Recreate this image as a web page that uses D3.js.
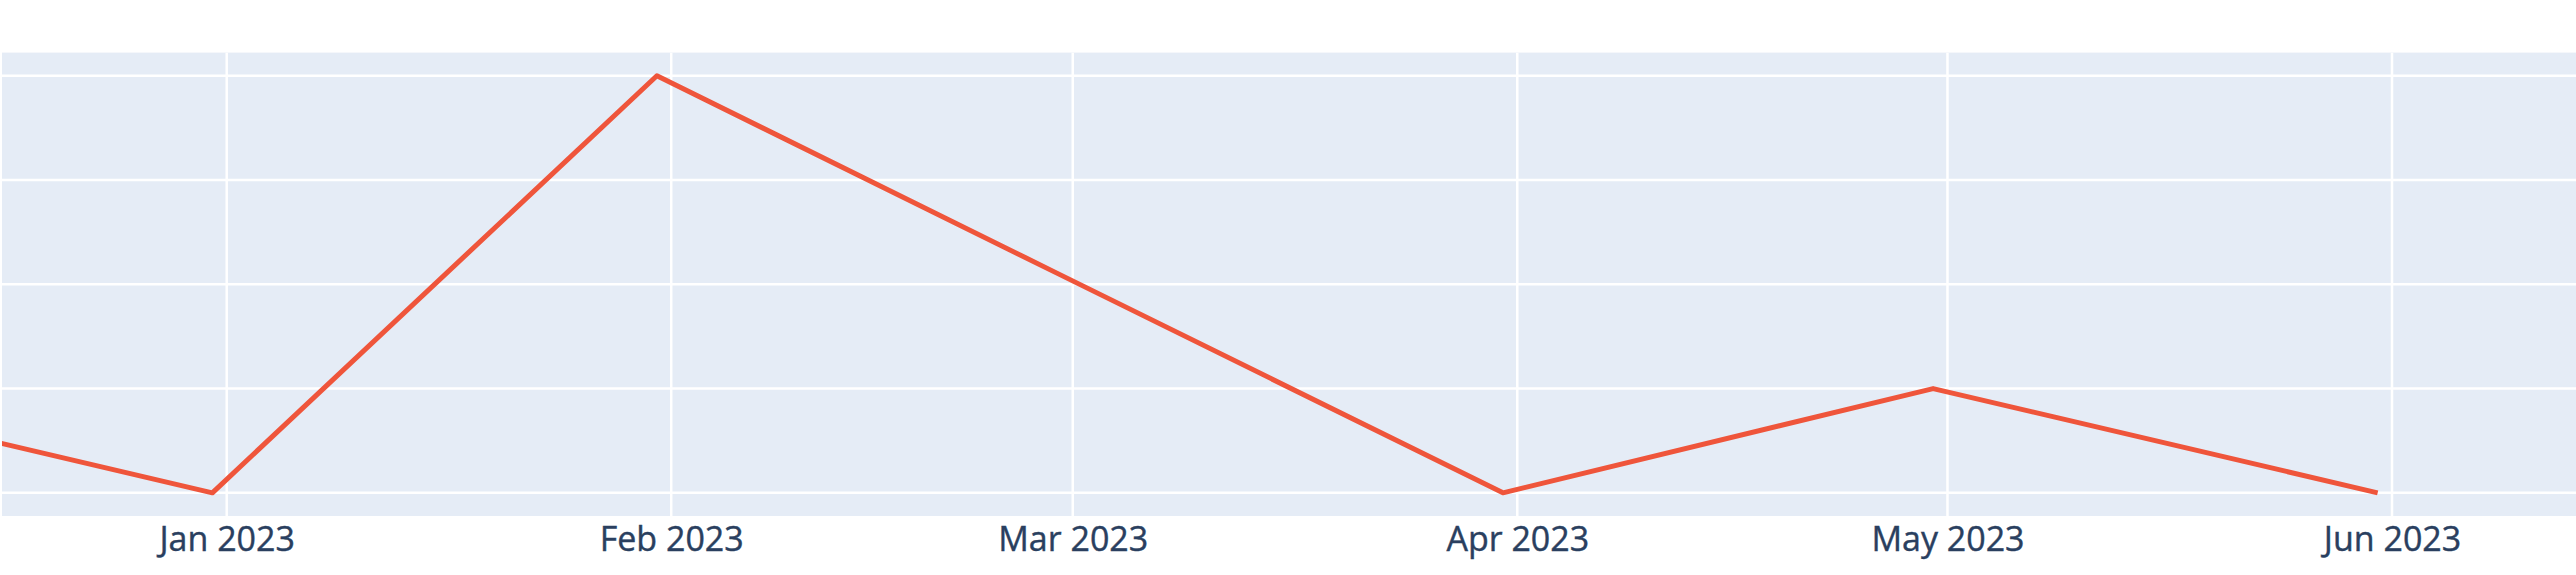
<!DOCTYPE html>
<html>
<head>
<meta charset="utf-8">
<script src="https://cdn.jsdelivr.net/npm/d3@7"></script>
<style>
  html, body { margin: 0; padding: 0; background: #ffffff; overflow: hidden; }
  svg { display: block; }
</style>
</head>
<body>
<svg id="chart" width="2576" height="575"></svg>
<script>
// ---- data ----
const dates = ["2022-11-30", "2022-12-31", "2023-01-31", "2023-02-28", "2023-03-31", "2023-04-30", "2023-05-31"];
const values = [2, 1, 5, 3.1, 1, 2, 1];
const yTicks = [1, 2, 3, 4, 5];
const xTickDates = ["2023-01-01", "2023-02-01", "2023-03-01", "2023-04-01", "2023-05-01", "2023-06-01"];

// ---- layout ----
const W = 2576, H = 575;
const plot = { left: 2, right: 2576, top: 52.6, bottom: 516 };
const parse = d3.utcParse("%Y-%m-%d");

const svg = d3.select("#chart");

// x: the visible window of a wider chart (Jan 1 and Jun 1 positions)
const x = d3.scaleUtc()
  .domain([parse("2023-01-01"), parse("2023-06-01")])
  .range([226.7, 2392]);

const plotH = plot.bottom - plot.top;
const pad = plotH * 0.05;
const y = d3.scaleLinear()
  .domain([d3.min(yTicks), d3.max(yTicks)])
  .range([plot.bottom - pad, plot.top + pad]);

svg.append("defs").append("clipPath").attr("id", "clip")
  .append("rect")
  .attr("x", plot.left).attr("y", plot.top)
  .attr("width", plot.right - plot.left).attr("height", plotH);

svg.append("rect")
  .attr("x", plot.left).attr("y", plot.top)
  .attr("width", plot.right - plot.left).attr("height", plotH)
  .attr("fill", "#E5ECF6");

const g = svg.append("g").attr("clip-path", "url(#clip)");

// horizontal grid
g.selectAll("line.hg").data(yTicks).join("line")
  .attr("class", "hg")
  .attr("x1", plot.left).attr("x2", plot.right)
  .attr("y1", d => y(d)).attr("y2", d => y(d))
  .attr("stroke", "#ffffff").attr("stroke-width", 2.5);

// vertical grid
const xt = xTickDates.map(parse);
g.selectAll("line.vg").data(xt).join("line")
  .attr("class", "vg")
  .attr("x1", d => x(d)).attr("x2", d => x(d))
  .attr("y1", plot.top).attr("y2", plot.bottom)
  .attr("stroke", "#ffffff").attr("stroke-width", 2.5);

// line
const pts = dates.map((d, i) => ({ date: parse(d), v: values[i] }));
g.append("path")
  .datum(pts)
  .attr("fill", "none")
  .attr("stroke", "#EF553B")
  .attr("stroke-width", 5)
  .attr("stroke-linejoin", "round")
  .attr("d", d3.line().x(d => x(d.date)).y(d => y(d.v)));

// x axis labels
const fmt = d3.utcFormat("%b %Y");
const xAxis = d3.axisBottom(x).tickValues(xt).tickFormat(fmt).tickSize(0).tickPadding(0);
const ax = svg.append("g").attr("transform", `translate(0,${plot.bottom})`).call(xAxis);
ax.select(".domain").remove();
ax.selectAll("text")
  .attr("dy", null)
  .attr("y", 35)
  .attr("fill", "#2a3f5f")
  .attr("stroke", "#2a3f5f")
  .attr("stroke-width", 0.4)
  .style("font-family", "'Open Sans', sans-serif")
  .style("font-size", "34px");
</script>
</body>
</html>
